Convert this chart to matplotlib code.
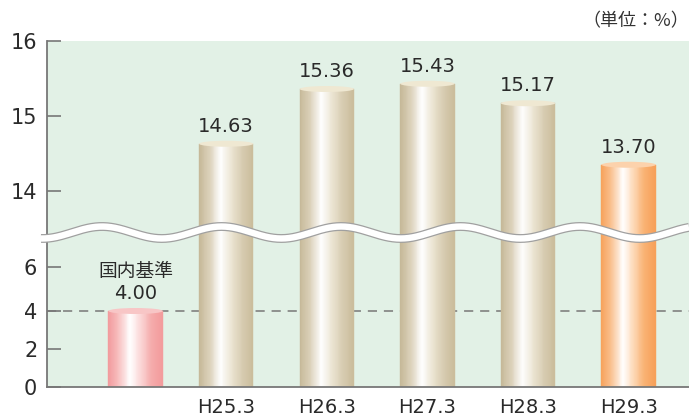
import numpy as np
import matplotlib
matplotlib.use("Agg")
import matplotlib.pyplot as plt
from matplotlib.colors import LinearSegmentedColormap
from matplotlib.patches import Ellipse
from matplotlib.transforms import ScaledTranslation

plt.rcParams['font.family'] = ['DejaVu Sans', 'Noto Sans CJK JP']

# data
categories = ["", "H25.3", "H26.3", "H27.3", "H28.3", "H29.3"]
values = [4.00, 14.63, 15.36, 15.43, 15.17, 13.70]
# the last cylinder in the original is drawn taller than its label says
heights = [4.00, 14.63, 15.36, 15.43, 15.17, 14.35]
kinds = ["pink", "beige", "beige", "beige", "beige", "orange"]
yticks = [0, 2, 4, 6, 14, 15, 16]

positions = [0.1, 1, 2, 3, 4, 5]
bar_w = 0.54

# broken axis: piecewise linear mapping (value -> pixels above the bottom)
xp = [-100, 0, 4, 6, 14, 16, 100]
fp = [-1900, 0, 76, 120, 196, 346, 6646]
def fwd(v):
    return np.interp(v, xp, fp)
def inv(p):
    return np.interp(p, fp, xp)

gradients = {
    "beige": ["#c6b999", "#ddd3bc", "#ffffff", "#ece5d3", "#d8cdb2", "#cbbd9c"],
    "pink": ["#f29c9e", "#f8c4c4", "#ffffff", "#fbd6d6", "#f5acac", "#f39c9d"],
    "orange": ["#f7a35c", "#fac79a", "#ffffff", "#fdd8b6", "#f9b273", "#f7a15a"],
}
tops = {"beige": "#efe8d2", "pink": "#f8c6c6", "orange": "#fcd2ac"}

fig = plt.figure(figsize=(6.89, 4.16), dpi=100)
ax = fig.add_axes([47 / 689, 29 / 416, 642 / 689, 346 / 416])
ax.set_facecolor("#e2f1e6")
ax.set_yscale("function", functions=(fwd, inv))
ax.set_ylim(0, 16)
ax.set_xlim(-0.781, 5.6)

ax.axhline(4, color="#777777", lw=1.1, ls=(0, (6, 4.5)), zorder=1)

px_per_unit = 642 / (5.6 + 0.781)
n = 60
for x, h, k in zip(positions, heights, kinds):
    cmap = LinearSegmentedColormap.from_list(k, gradients[k])
    edges = np.linspace(x - bar_w / 2, x + bar_w / 2, n + 1)
    mids = (edges[:-1] + edges[1:]) / 2
    cols = cmap(np.linspace(0, 1, n))
    ax.bar(mids, h, width=bar_w / n, color=cols, edgecolor=cols, linewidth=0.3, zorder=2)
    ell = Ellipse((0, 0), bar_w * px_per_unit / 100, 6 / 100, facecolor=tops[k],
                  edgecolor="none", zorder=3,
                  transform=fig.dpi_scale_trans + ScaledTranslation(x, h, ax.transData))
    ax.add_patch(ell)

for i, (x, h, v) in enumerate(zip(positions, heights, values)):
    ax.annotate(f"{v:.2f}", (x, h), xytext=(0, 8.6), textcoords="offset points",
                ha="center", va="baseline", fontsize=14, color="#2a2a2a", zorder=6)
ax.annotate("国内基準", (positions[0], heights[0]), xytext=(0, 24.5), textcoords="offset points",
            ha="center", va="baseline", fontsize=13.5, color="#2a2a2a",
            family=["Noto Sans CJK JP"], zorder=6)

ax.set_xticks(positions)
ax.set_xticklabels(categories, fontsize=14, color="#2a2a2a")
ax.set_yticks(yticks)
ax.set_yticklabels([str(t) for t in yticks], fontsize=15, color="#2a2a2a")
ax.tick_params(axis="x", length=0, pad=8)
ax.tick_params(axis="y", direction="in", length=10, width=1.2, color="#777777", pad=7)
for s in ["top", "right"]:
    ax.spines[s].set_visible(False)
for s in ["left", "bottom"]:
    ax.spines[s].set_color("#777777")
    ax.spines[s].set_linewidth(1.3)

# wavy break
wx = np.linspace(41, 689, 500)
wy = 232.5 - 6 * np.cos(2 * np.pi * (wx - 102) / 119.5)
fx, fy = wx / 689, 1 - wy / 416
fig.add_artist(plt.Line2D(fx, fy, color="#a0a0a0", lw=6.4, solid_capstyle="butt", zorder=10))
fig.add_artist(plt.Line2D(fx, fy, color="white", lw=4.6, solid_capstyle="butt", zorder=11))

fig.text(1.0, 1 - 21 / 416, "（単位：%）", ha="right", va="center", fontsize=13,
         color="#333333", family=["Noto Sans CJK JP"])

fig.savefig("out.png", dpi=100)
